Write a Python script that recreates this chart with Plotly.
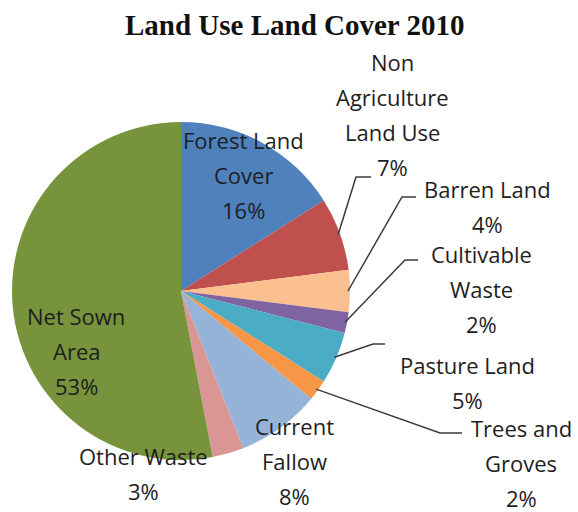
import math
import plotly.graph_objects as go

# Land use / land cover shares for 2010 (percent of total area)
categories = ["Forest Land Cover", "Non Agriculture Land Use", "Barren Land",
              "Cultivable Waste", "Pasture Land", "Trees and Groves",
              "Current Fallow", "Other Waste", "Net Sown Area"]
shares = [16, 7, 4, 2, 5, 2, 8, 3, 53]
colors = ["#4F81BD", "#C0504D", "#FAC090", "#8064A2", "#4BACC6",
          "#F79646", "#95B3D7", "#D99694", "#77933C"]

# wrapped label lines for each category
label_lines = [["Forest Land", "Cover"],
               ["Non", "Agriculture", "Land Use"],
               ["Barren Land"],
               ["Cultivable", "Waste"],
               ["Pasture Land"],
               ["Trees and", "Groves"],
               ["Current", "Fallow"],
               ["Other Waste"],
               ["Net Sown", "Area"]]

W, H = 578, 512
CX, CY, R = 181, 291, 169          # pie centre / radius in pixels

# label anchor (centre x, first baseline y) in pixels
label_pos = [(243, 148), (392, 70), (488, 197), (481, 262), (467, 373),
             (521, 436), (294, 434), (143, 464), (76, 324)]
LINE_GAP = 35

# leader-line elbows and ends (pixels); None where the label sits without a line
leaders = [None,
           ((356, 177), (371, 177)),
           ((402, 197), (416, 197)),
           ((405, 260), (418, 260)),
           ((373, 344), (385, 344)),
           ((440, 433), (462, 433)),
           None, None, None]


def px(x):
    return x / W


def py(y):
    return 1 - y / H


fig = go.Figure(go.Pie(
    labels=categories, values=shares, sort=False, direction="clockwise",
    rotation=0, marker=dict(colors=colors, line=dict(width=0)),
    textinfo="none", hoverinfo="label+percent", showlegend=False,
    domain=dict(x=[px(CX - R), px(CX + R)], y=[py(CY + R), py(CY - R)]),
))

annotations = []
shapes = []
FONT = dict(family="Open Sans, DejaVu Sans, sans-serif", size=22, color="#1e1e1e")

total = sum(shares)
cum = 0
for i, (name, v) in enumerate(zip(categories, shares)):
    pct = f"{round(100 * v / total)}%"
    lines = label_lines[i] + [pct]
    lx, ly = label_pos[i]
    for k, t in enumerate(lines):
        annotations.append(dict(
            text=t, x=px(lx), y=py(ly + k * LINE_GAP - 8), xref="paper", yref="paper",
            xanchor="center", yanchor="middle", showarrow=False, font=FONT))
    mid = (cum + v / 2) / total * 2 * math.pi
    cum += v
    if leaders[i] is not None:
        sx = CX + (R - 2) * math.sin(mid)
        sy = CY - (R - 2) * math.cos(mid)
        (ex, ey), (fx, fy) = leaders[i]
        path = f"M {px(sx)} {py(sy)} L {px(ex)} {py(ey)} L {px(fx)} {py(fy)}"
        shapes.append(dict(type="path", path=path, xref="paper", yref="paper",
                           line=dict(color="#3a3a3a", width=1.5)))

annotations.append(dict(
    text="<b>Land Use Land Cover 2010</b>", x=px(294), y=py(25),
    xref="paper", yref="paper", xanchor="center", yanchor="middle",
    showarrow=False,
    font=dict(family="Liberation Serif, Times New Roman, serif", size=29, color="#111111")))

fig.update_layout(
    width=W, height=H, margin=dict(l=0, r=0, t=0, b=0),
    paper_bgcolor="white", plot_bgcolor="white",
    annotations=annotations, shapes=shapes,
)

fig.write_html("out.html")
